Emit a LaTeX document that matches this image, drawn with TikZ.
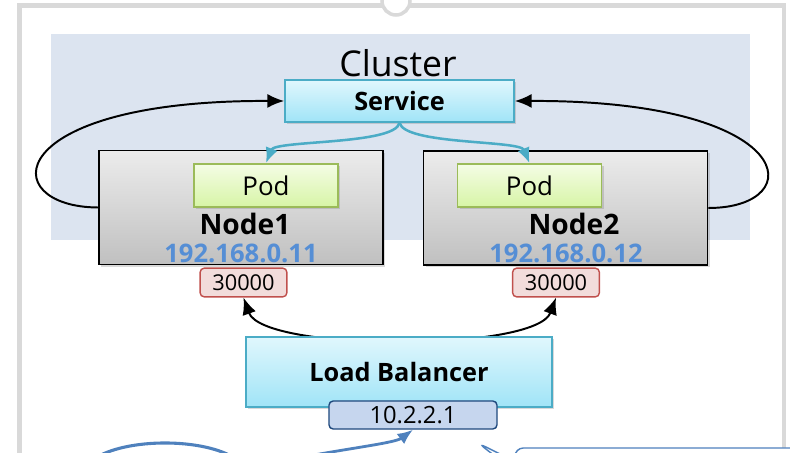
\documentclass[tikz,border=0pt]{standalone}
\usepackage{fontspec}
\setmainfont{Open Sans}
\usetikzlibrary{positioning,arrows.meta,shadows,shapes.geometric,shapes.callouts}

\definecolor{clusterbg}{RGB}{220,228,240}
\definecolor{framegray}{RGB}{217,217,217}
\definecolor{svcborder}{RGB}{75,172,198}
\definecolor{svctop}{RGB}{224,247,253}
\definecolor{svcbot}{RGB}{160,228,247}
\definecolor{podborder}{RGB}{155,187,89}
\definecolor{podtop}{RGB}{244,252,229}
\definecolor{podbot}{RGB}{215,245,166}
\definecolor{hosttop}{RGB}{236,236,236}
\definecolor{hostbot}{RGB}{192,192,192}
\definecolor{portfill}{RGB}{242,220,219}
\definecolor{portborder}{RGB}{192,80,77}
\definecolor{ipblue}{RGB}{85,142,213}
\definecolor{lbipfill}{RGB}{198,214,238}
\definecolor{lbipborder}{RGB}{31,73,125}
\definecolor{noteblue}{RGB}{79,129,189}

\begin{document}
\begin{tikzpicture}[x=0.025cm, y=-0.025cm,
    softshadow/.style={drop shadow={opacity=0.3, shadow xshift=1.5pt, shadow yshift=-1.5pt}},
    svcbox/.style={draw=svcborder, line width=1.2pt, top color=svctop, bottom color=svcbot, softshadow, font=\fontsize{18}{20}\selectfont\bfseries},
    hostbox/.style={draw=black, line width=1.2pt, top color=hosttop, bottom color=hostbot, minimum width=7.1cm, minimum height=2.85cm, softshadow},
    podbox/.style={draw=podborder, line width=1.2pt, top color=podtop, bottom color=podbot, minimum width=3.6cm, minimum height=1.075cm, softshadow, font=\fontsize{18.4}{20}\selectfont},
    portbox/.style={draw=portborder, line width=1pt, fill=portfill, rounded corners=3pt, minimum width=2.17cm, minimum height=0.72cm, font=\fontsize{15.5}{17}\selectfont},
    hostname/.style={font=\fontsize{20}{22}\selectfont\bfseries},
    hostip/.style={text=ipblue, font=\fontsize{18.2}{20}\selectfont\bfseries},
    blackarrow/.style={line width=1.4pt, -{Latex[length=12pt,width=10pt]}},
    cyanarrow/.style={draw=svcborder, line width=1.8pt, -{Latex[length=11pt,width=9pt]}}]

    \useasboundingbox (0,0) rectangle (790,453);
    \clip (0,0) rectangle (790,453);

    %Frame and cluster area
    \draw[framegray, line width=3.5pt] (19.5,5.5) rectangle (784,480);
    \node[circle, draw=framegray, line width=2.5pt, fill=white, minimum size=0.7cm] (knob) at (396,1) {};
    \fill[clusterbg] (51,34) rectangle (750,240);
    \node[font=\fontsize{25.3}{28}\selectfont] (cluster) at (398,63) {Cluster};

    %Nodes
    \node[svcbox, minimum width=5.72cm, minimum height=1.05cm] (svc) at (399.5,101) {Service};
    \node[hostbox] (n1) at (241,207.5) {};
    \node[hostbox] (n2) at (565.5,208) {};
    \node[podbox] (pod1) at (266,185.5) {Pod};
    \node[podbox] (pod2) at (529.5,185.5) {Pod};
    \node[hostname] (n1name) at (245,224) {Node1};
    \node[hostname] (n2name) at (574,224) {Node2};
    \node[hostip] (n1ip) at (241,253) {192.168.0.11};
    \node[hostip] (n2ip) at (566,253) {192.168.0.12};
    \node[portbox] (port1) at (243.5,282.5) {30000};
    \node[portbox] (port2) at (556,282.5) {30000};

    %Lines
    \draw[blackarrow] (n1.west) .. controls (-5,207) and (0,100) .. (svc.west);
    \draw[blackarrow] (n2.east) .. controls (811,208) and (800,100) .. (svc.east);
    \draw[cyanarrow] (svc.south) .. controls (395,145) and (275,140) .. (pod1.north);
    \draw[cyanarrow] (svc.south) .. controls (405,145) and (520,140) .. (pod2.north);
    \draw[line width=1.4pt, {Latex[length=12pt,width=10pt]}-{Latex[length=12pt,width=10pt]}]
        (port1.south) .. controls (263,352) and (536,352) .. (port2.south);

    %Load balancer
    \node[svcbox, minimum width=7.65cm, minimum height=1.75cm] (lb) at (399,372) {Load Balancer};
    \node[draw=lbipborder, line width=1pt, fill=lbipfill, rounded corners=3pt, minimum width=4.2cm, minimum height=0.7cm, font=\fontsize{16.9}{18}\selectfont] (lbip) at (413,415) {10.2.2.1};

    %Bottom
    \node[ellipse, draw=noteblue, line width=2.2pt, minimum width=4cm, minimum height=1.5cm] (client) at (165,473) {};
    \coordinate (src) at (298,458);
    \draw[draw=noteblue, line width=2pt, -{Latex[length=11pt,width=9pt]}] (src) .. controls (350,448) and (395,443) .. (lbip.south);
    \node[rectangle callout, draw=noteblue, line width=1pt, fill=white, rounded corners=6pt, minimum width=7.25cm, minimum height=2.2cm, callout absolute pointer={(478,443)}] (note) at (660,492) {};
\end{tikzpicture}
\end{document}
